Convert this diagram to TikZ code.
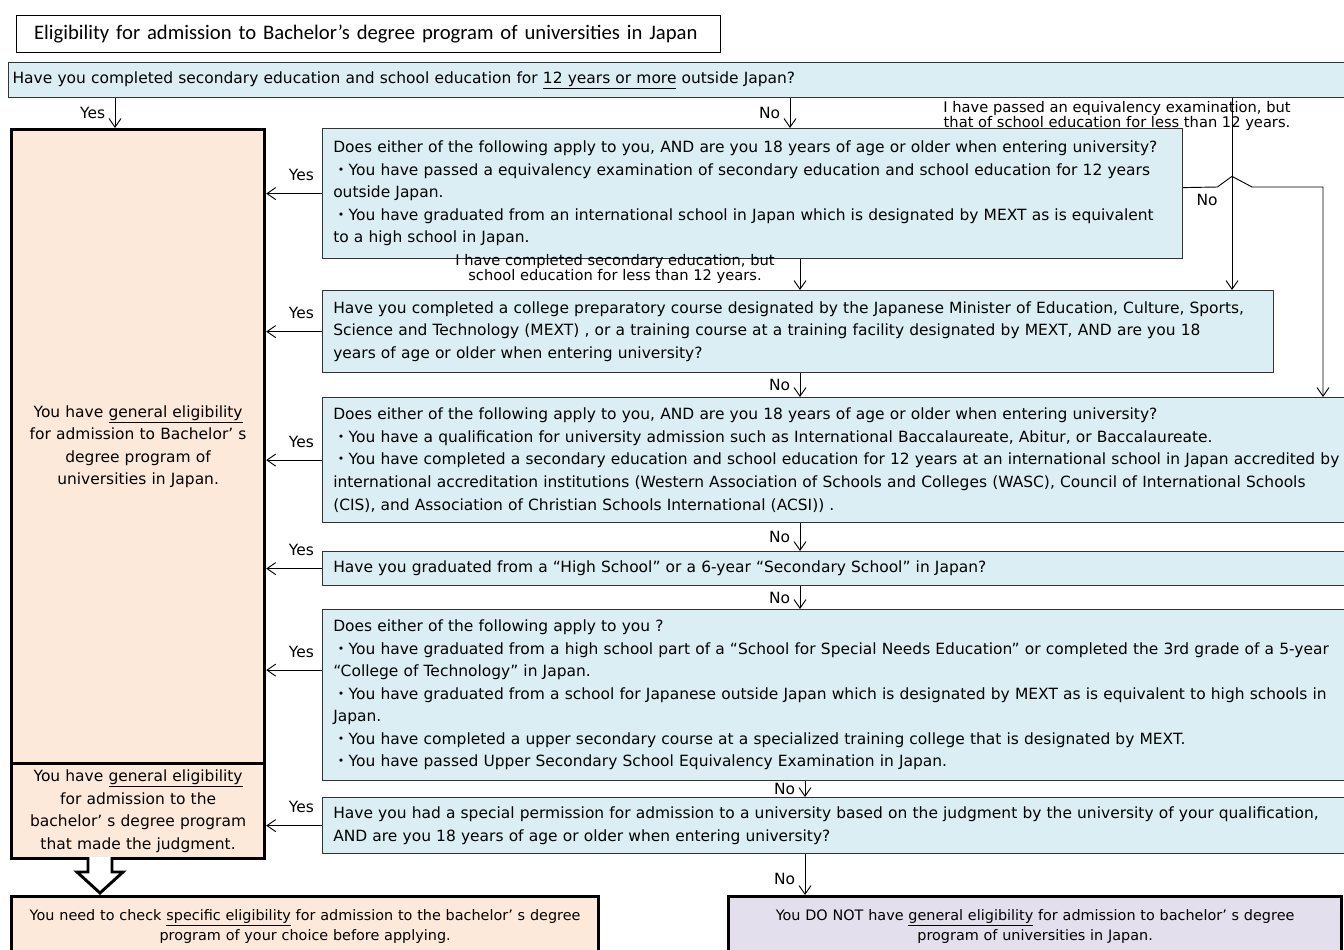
\documentclass[tikz,border=0pt]{standalone}
\usepackage{fontspec}
\setmainfont{DejaVu Sans}
\newfontfamily\titlefont{Carlito}
\newfontfamily\jpfont{Noto Sans CJK JP}
\newcommand{\dotpt}{{\jpfont ・}}
\usetikzlibrary{arrows.meta}
\definecolor{qblue}{RGB}{218,238,243}
\definecolor{okorange}{RGB}{253,233,217}
\definecolor{nopurple}{RGB}{228,223,236}

\begin{document}
\begin{tikzpicture}[x=0.75pt,y=-0.75pt,
    every node/.style={font=\fontsize{11.6}{16.9}\selectfont},
    qbox/.style={draw=black!80,fill=qblue,line width=0.9pt,anchor=north west,align=left,inner xsep=8pt,inner ysep=0pt},
    okbox/.style={draw=black,line width=2.4pt,anchor=north west,align=center,inner xsep=0pt,inner ysep=0pt},
    link/.style={-{Straight Barb[length=6.5pt,width=9pt]},line width=0.7pt},
    lbl/.style={inner sep=1pt},
    note/.style={align=center,inner sep=0pt,font=\fontsize{11}{8.3}\selectfont}]
    \useasboundingbox (0,0) rectangle (1344,949);
    \node[draw,line width=1pt,anchor=north west,minimum height=27.75pt,inner xsep=13pt,text width=502pt,align=left,font=\titlefont\fontsize{15.5}{18}\selectfont] (title) at (16,15) {Eligibility for admission to Bachelor’s degree program of universities in Japan};
    \node[qbox,inner xsep=3pt,text width=1002pt,minimum height=26.25pt] (q0) at (8,62) {Have you completed secondary education and school education for \underline{12 years or more} outside Japan?};
    \node[okbox,fill=okorange,text width=189.75pt,minimum height=475.5pt] (okA) at (10,128) {You have \underline{general eligibility}\\for admission to Bachelor’ s\\degree program of\\universities in Japan.};
    \node[okbox,fill=okorange,text width=189.75pt,minimum height=71.25pt] (okB) at (10,762) {You have \underline{general eligibility}\\for admission to the\\bachelor’ s degree program\\that made the judgment.};
    \node[qbox,text width=629pt,minimum height=97.5pt] (q1) at (322,128) {Does either of the following apply to you, AND are you 18 years of age or older when entering university?\\\dotpt You have passed a equivalency examination of secondary education and school education for 12 years\\outside Japan.\\\dotpt You have graduated from an international school in Japan which is designated by MEXT as is equivalent\\to a high school in Japan.};
    \node[qbox,text width=697.25pt,minimum height=61.5pt] (q2) at (322,290) {Have you completed a college preparatory course designated by the Japanese Minister of Education, Culture, Sports,\\Science and Technology (MEXT) , or a training course at a training facility designated by MEXT, AND are you 18\\years of age or older when entering university?};
    \node[qbox,text width=756.5pt,minimum height=93.75pt] (q3) at (322,397) {Does either of the following apply to you, AND are you 18 years of age or older when entering university?\\\dotpt You have a qualification for university admission such as International Baccalaureate, Abitur, or Baccalaureate.\\\dotpt You have completed a secondary education and school education for 12 years at an international school in Japan accredited by\\international accreditation institutions (Western Association of Schools and Colleges (WASC), Council of International Schools\\(CIS), and Association of Christian Schools International (ACSI)) .};
    \node[qbox,text width=756.5pt,minimum height=25.5pt] (q4) at (322,551) {Have you graduated from a “High School” or a 6-year “Secondary School” in Japan?};
    \node[qbox,text width=756.5pt,minimum height=128.25pt] (q5) at (322,609) {Does either of the following apply to you ?\\\dotpt You have graduated from a high school part of a “School for Special Needs Education” or completed the 3rd grade of a 5-year\\“College of Technology” in Japan.\\\dotpt You have graduated from a school for Japanese outside Japan which is designated by MEXT as is equivalent to high schools in\\Japan.\\\dotpt You have completed a upper secondary course at a specialized training college that is designated by MEXT.\\\dotpt You have passed Upper Secondary School Equivalency Examination in Japan.};
    \node[qbox,text width=756.5pt,minimum height=42pt] (q6) at (322,797) {Have you had a special permission for admission to a university based on the judgment by the university of your qualification,\\AND are you 18 years of age or older when entering university?};
    \node[okbox,fill=okorange,text width=440.25pt,minimum height=45pt,font=\fontsize{10.8}{15}\selectfont] (endA) at (10,895) {You need to check \underline{specific eligibility} for admission to the bachelor’ s degree\\program of your choice before applying.};
    \node[okbox,fill=nopurple,text width=459.75pt,minimum height=45pt,font=\fontsize{10.8}{15}\selectfont] (endB) at (727,895) {You DO NOT have \underline{general eligibility} for admission to bachelor’ s degree\\program of universities in Japan.};
    % x positions of the vertical connectors
    \coordinate (xyes) at (115,0);
    \coordinate (xno) at (790,0);
    \coordinate (xno2) at (800,0);
    \coordinate (xno3) at (805,0);
    \coordinate (xeq) at (1232,0);
    \coordinate (xright) at (1323,0);
    \coordinate (jmp) at (1232,187);
    \draw[link] (q0.south -| xyes) -- (okA.north -| xyes) node[lbl,midway,left=6pt] (yes0) {Yes};
    \draw[link] (q0.south -| xno) -- (q1.north -| xno) node[lbl,midway,left=6pt] (no0) {No};
    \draw[link] (q0.south -| xeq) -- (q2.north -| xeq);
    \node[note] (eqnote) at (1117,116) {I have passed an equivalency examination, but\\that of school education for less than 12 years.};
    \draw[link] ([yshift=4.5pt]q1.east) -- ([xshift=-11pt]jmp) -- ([yshift=8pt]jmp) -- ([xshift=15pt]jmp) -- (jmp -| xright) -- (q3.north -| xright);
    \node[lbl] (no1) at (1207,200) {No};
    \draw[link] (q1.south -| xno2) -- (q2.north -| xno2);
    \node[note] (secnote) at (615,269) {I have completed secondary education, but\\school education for less than 12 years.};
    \draw[link] (q2.south -| xno2) -- (q3.north -| xno2) node[lbl,midway,left=6pt] (no2) {No};
    \draw[link] (q3.south -| xno2) -- (q4.north -| xno2) node[lbl,midway,left=6pt] (no3) {No};
    \draw[link] (q4.south -| xno2) -- (q5.north -| xno2) node[lbl,midway,left=6pt] (no4) {No};
    \draw[link] (q5.south -| xno3) -- (q6.north -| xno3) node[lbl,midway,left=6pt] (no5) {No};
    \draw[link] (q6.south -| xno3) -- (endB.north -| xno3) node[lbl,pos=0.6,left=6pt] (no6) {No};
    % yes branches to the left
    \draw[link] (q1.west) -- (q1.west -| okA.east) node[lbl,pos=0.37,above=8pt] (yes1) {Yes};
    \draw[link] (q2.west) -- (q2.west -| okA.east) node[lbl,pos=0.37,above=8pt] (yes2) {Yes};
    \draw[link] (q3.west) -- (q3.west -| okA.east) node[lbl,pos=0.37,above=8pt] (yes3) {Yes};
    \draw[link] (q4.west) -- (q4.west -| okA.east) node[lbl,pos=0.37,above=8pt] (yes4) {Yes};
    \draw[link] ([yshift=18.75pt]q5.west) -- ([yshift=18.75pt]q5.west -| okA.east) node[lbl,pos=0.37,above=8pt] (yes5) {Yes};
    \draw[link] (q6.west) -- (q6.west -| okB.east) node[lbl,pos=0.37,above=8pt] (yes6) {Yes};
    % hollow arrow down to the check box
    \draw[line width=2.2pt,fill=white] (88,857) -- (88,872) -- (77,872) -- (100,893) -- (123,872) -- (112,872) -- (112,857);
\end{tikzpicture}
\end{document}
